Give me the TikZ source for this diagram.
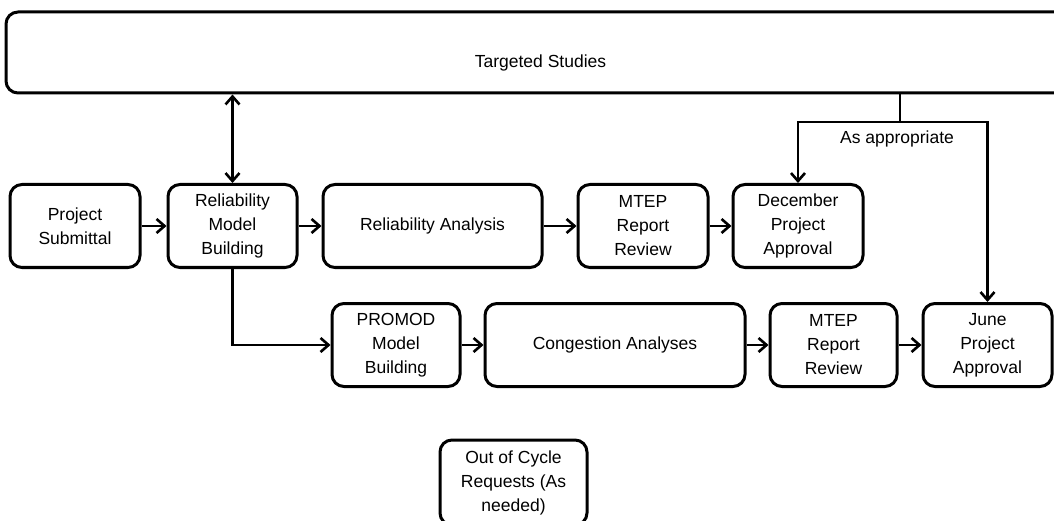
\documentclass[tikz,border=0pt]{standalone}
\usepackage{fontspec}
\setmainfont{Liberation Sans}
\usetikzlibrary{arrows.meta}

\begin{document}
\begin{tikzpicture}[x=1pt,y=-1pt,
	box/.style={draw, line width=3pt, rounded corners=12pt, align=center, inner sep=0pt, minimum height=83pt},
	flow/.style={line width=2.6pt, -{Straight Barb[length=8pt,width=14pt]}},
	every node/.append style={font=\fontsize{17.5}{24}\selectfont}]
	\useasboundingbox (0,0) rectangle (1054,521);
	% top band
	\node[box, minimum width=1069pt, minimum height=81pt, label={[yshift=-10pt]center:Targeted Studies}] (ts) at (540.5,52.5) {};
	% reliability row
	\node[box, minimum width=130pt] (ps) at (75,226) {Project\\Submittal};
	\node[box, minimum width=129pt] (rmb) at (232.5,226) {Reliability\\Model\\Building};
	\node[box, minimum width=219pt] (ra) at (432.5,226) {Reliability Analysis};
	\node[box, minimum width=130pt] (mt1) at (643,226) {MTEP\\Report\\Review};
	\node[box, minimum width=130pt] (dec) at (798,226) {December\\Project\\Approval};
	% congestion row
	\node[box, minimum width=128pt] (pro) at (396,345) {PROMOD\\Model\\Building};
	\node[box, minimum width=260pt] (cong) at (615,345) {Congestion Analyses};
	\node[box, minimum width=127pt] (mt2) at (833.5,345) {MTEP\\Report\\Review};
	\node[box, minimum width=129pt] (june) at (987.5,345) {June\\Project\\Approval};
	% out of cycle
	\node[box, minimum width=147pt, minimum height=85pt] (ooc) at (513.5,482.5) {Out of Cycle\\Requests (As\\needed)};
	% connectors
	\draw[flow] (ps.east) -- (rmb.west);
	\draw[flow] (rmb.east) -- (ra.west);
	\draw[flow] (ra.east) -- (mt1.west);
	\draw[flow] (mt1.east) -- (dec.west);
	\draw[flow, {Straight Barb[length=8pt,width=14pt]}-{Straight Barb[length=8pt,width=14pt]}] (rmb.north) -- (rmb.north |- ts.south);
	\draw[flow] (rmb.south) |- (pro.west);
	\draw[flow] (pro.east) -- (cong.west);
	\draw[flow] (cong.east) -- (mt2.west);
	\draw[flow] (mt2.east) -- (june.west);
	\coordinate (split) at (900,122);
	\draw[line width=2.6pt] (ts.south -| split) -- (split);
	\draw[flow] (split) -| (dec.north);
	\draw[flow] (split) -| (june.north);
	\node (asap) at (897,139) {As appropriate};
\end{tikzpicture}
\end{document}
